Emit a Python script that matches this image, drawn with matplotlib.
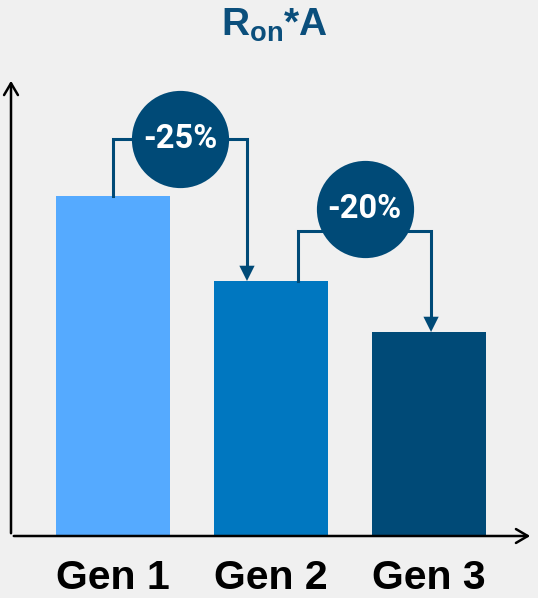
"""R_on*A comparison across three generations, with percentage-drop bubbles."""

import matplotlib
matplotlib.use("Agg")
import matplotlib.pyplot as plt

# data
categories = ["Gen 1", "Gen 2", "Gen 3"]
values = [100, 75, 60]
bar_colors = ["#55aaff", "#0077c0", "#004a77"]

BG = "#f0f0f0"
DARK = "#004a77"
TITLE_C = "#0b4f7c"

plt.rcParams["mathtext.fontset"] = "custom"
plt.rcParams["mathtext.bf"] = "Liberation Sans:bold"
plt.rcParams["mathtext.rm"] = "Liberation Sans:bold"

W, H, DPI = 538, 598, 100
fig = plt.figure(figsize=(W / DPI, H / DPI), dpi=DPI, facecolor=BG)

# axis box in pixels: x from 11 to 533, y (from top) 78 to 536
ax = fig.add_axes([11 / W, (H - 536) / H, (533 - 11) / W, (536 - 78) / H])
ax.set_facecolor(BG)
ax.set_xlim((11 - 113) / 158, (533 - 113) / 158)
ax.set_ylim(0, (536 - 78) / 3.4)
for s in ax.spines.values():
    s.set_visible(False)
ax.set_xticks([])
ax.set_yticks([])

x = list(range(len(categories)))
ax.bar(x, values, width=114 / 158, color=bar_colors, zorder=2)

# axis arrows
arrow_kw = dict(arrowstyle="->,head_length=0.85,head_width=0.5", lw=1.8, color="black")
ax.annotate("", xy=(0, 1.0), xytext=(0, 0), xycoords="axes fraction",
            arrowprops=arrow_kw, annotation_clip=False, zorder=5)
ax.annotate("", xy=(1.0, 0), xytext=(0, 0), xycoords="axes fraction",
            arrowprops=arrow_kw, annotation_clip=False, zorder=5)

# category labels
for xi, lbl in zip(x, categories):
    ax.annotate(lbl, (xi, 0), xytext=(0, -38), textcoords="offset points",
                ha="center", va="baseline", fontsize=29.5, fontweight="bold",
                family="Liberation Sans", color="black", annotation_clip=False)

# drop connectors: (start offset, end offset, bracket rise, bubble lift)
connectors = [(0.0, -0.152, 16.8, 0.0), (0.171, 0.013, 14.7, 6.5)]
for i, (s_off, e_off, rise, lift) in enumerate(connectors):
    v0, v1 = values[i], values[i + 1]
    x0, x1 = x[i] + s_off, x[i + 1] + e_off
    yb = v0 + rise
    ax.plot([x0, x0, x1, x1], [v0, yb, yb, v1 + 4], color=DARK, lw=2.2,
            solid_joinstyle="miter", zorder=3)
    ax.annotate("", xy=(x1, v1), xytext=(x1, v1 + 6),
                arrowprops=dict(arrowstyle="-|>,head_length=1.1,head_width=0.55",
                                color=DARK, lw=0, shrinkA=0, shrinkB=0), zorder=3)
    cx = (x0 + x1) / 2
    cy = yb + lift
    ax.plot([cx], [cy], "o", markersize=70, color=DARK, markeredgewidth=0, zorder=4)
    pct = (v1 - v0) / v0 * 100
    ax.text(cx, cy, f"{pct:.0f}%", ha="center", va="center", fontsize=23.5,
            fontweight="bold", family="Roboto", color="white", zorder=5)

# title
fig.text(0.51, (H - 36) / H, r"$\mathbf{R_{on}}$*A", ha="center", va="baseline",
         fontsize=28, fontweight="bold", family="Liberation Sans", color=TITLE_C)

fig.savefig("out.png", dpi=DPI, facecolor=BG)
